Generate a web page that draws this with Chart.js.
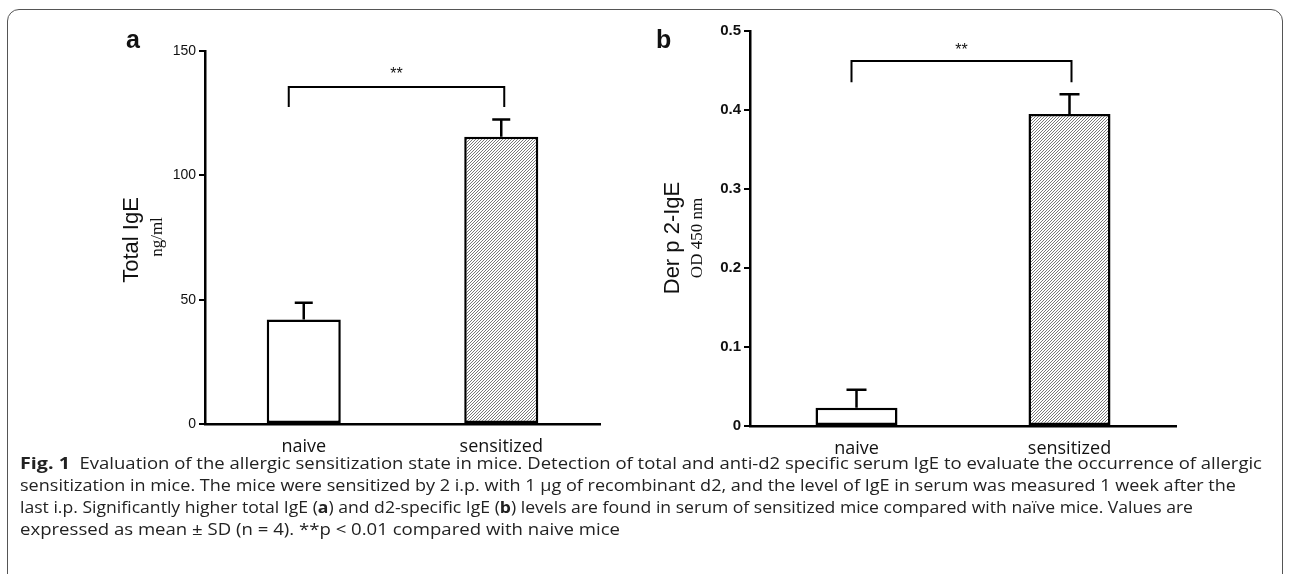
<!DOCTYPE html>
<html lang="en">
<head>
<meta charset="UTF-8">
<title>Fig. 1</title>
<script src="https://cdn.jsdelivr.net/npm/chart.js"></script>
<style>
    html, body { margin: 0; padding: 0; background: #fff; }
    body { width: 1290px; height: 574px; position: relative; overflow: hidden; font-family: "Liberation Sans", Arial, sans-serif; }
    #frame { position: absolute; left: 7px; top: 9px; width: 1276px; height: 620px; border: 1.5px solid #555; border-radius: 12px; box-sizing: border-box; }
    canvas { position: absolute; }
    .lbl { position: absolute; color: #111; white-space: nowrap; }
    .panel { font-weight: bold; font-size: 25px; }
    .rot { transform: translate(-50%, -50%) rotate(-90deg); }
    .serif { font-family: "Liberation Serif", "Times New Roman", serif; }
    #caption { position: absolute; left: 20px; top: 452px; font-family: "Open Sans", sans-serif; font-size: 15.5px; line-height: 22px; color: #222; }
    #caption div { white-space: nowrap; transform-origin: left center; }
    #caption b.fig { font-size: 16.5px; }
</style>
</head>
<body>
<div id="frame"></div>

<canvas id="chartA" width="520" height="440" style="left:100px; top:20px;"></canvas>
<canvas id="chartB" width="566" height="447" style="left:630px; top:15px;"></canvas>

<div class="lbl panel" style="left:126px; top:25px;">a</div>
<div class="lbl panel" style="left:656px; top:25px;">b</div>
<div class="lbl rot" style="left:131px; top:240px; font-size:22px;">Total IgE</div>
<div class="lbl rot serif" style="left:157px; top:237px; font-size:17px;">ng/ml</div>
<div class="lbl rot" style="left:672px; top:238px; font-size:22px;">Der p 2-IgE</div>
<div class="lbl rot serif" style="left:697px; top:238px; font-size:17px;">OD 450 nm</div>

<div id="caption">
    <div data-w="1242"><b class="fig">Fig. 1</b>&nbsp; Evaluation of the allergic sensitization state in mice. Detection of total and anti-d2 specific serum IgE to evaluate the occurrence of allergic</div>
    <div data-w="1216">sensitization in mice. The mice were sensitized by 2 i.p. with 1 μg of recombinant d2, and the level of IgE in serum was measured 1 week after the</div>
    <div data-w="1173">last i.p. Significantly higher total IgE (<b>a</b>) and d2-specific IgE (<b>b</b>) levels are found in serum of sensitized mice compared with naïve mice. Values are</div>
    <div data-w="600">expressed as mean ± SD (n = 4). **p &lt; 0.01 compared with naive mice</div>
</div>

<script>
// data
const categories = ['naive', 'sensitized'];
const totalIgE = [42, 115.5];
const totalIgESD = [6.8, 7.0];
const derP2IgE = [0.023, 0.395];
const derP2IgESD = [0.023, 0.025];
// significance brackets: [y of bar, y of leg ends]
const bracketA = [135.5, 127.5];
const bracketB = [0.462, 0.435];

// fit caption lines to their width in the figure
document.querySelectorAll('#caption div').forEach(el => {
    const span = document.createElement('span');
    span.innerHTML = el.innerHTML;
    el.innerHTML = '';
    el.appendChild(span);
    const w = span.getBoundingClientRect().width;
    el.style.transform = 'scaleX(' + (el.dataset.w / w) + ')';
});

function hatch() {
    const c = document.createElement('canvas');
    c.width = 3; c.height = 3;
    const g = c.getContext('2d');
    g.fillStyle = '#fff';
    g.fillRect(0, 0, 3, 3);
    g.strokeStyle = '#6a6a6a';
    g.lineWidth = 0.9;
    g.beginPath();
    g.moveTo(0, 3); g.lineTo(3, 0);
    g.moveTo(-1, 1); g.lineTo(1, -1);
    g.moveTo(2, 4); g.lineTo(4, 2);
    g.stroke();
    return g.createPattern(c, 'repeat');
}

const extras = {
    id: 'extras',
    afterDatasetsDraw(chart, args, opts) {
        const ctx = chart.ctx;
        const x = chart.scales.x, y = chart.scales.y;
        ctx.save();
        ctx.strokeStyle = '#000';
        ctx.lineWidth = 2.5;
        // error bars (upper half only)
        chart.getDatasetMeta(0).data.forEach((bar, i) => {
            const v = chart.data.datasets[0].data[i];
            const top = y.getPixelForValue(v + opts.sd[i]);
            ctx.beginPath();
            ctx.moveTo(bar.x, bar.y);
            ctx.lineTo(bar.x, top);
            ctx.moveTo(bar.x - opts.cap, top);
            ctx.lineTo(bar.x + opts.cap, top);
            ctx.stroke();
        });
        // bracket
        const x0 = x.getPixelForValue(0) + opts.legs[0];
        const x1 = x.getPixelForValue(1) + opts.legs[1];
        const yb = y.getPixelForValue(opts.bracket[0]);
        const yl = y.getPixelForValue(opts.bracket[1]);
        ctx.lineWidth = 2;
        ctx.beginPath();
        ctx.moveTo(x0, yl); ctx.lineTo(x0, yb); ctx.lineTo(x1, yb); ctx.lineTo(x1, yl);
        ctx.stroke();
        ctx.fillStyle = '#111';
        ctx.font = '16px "Liberation Sans", Arial';
        ctx.textAlign = 'center';
        ctx.textBaseline = 'bottom';
        ctx.fillText('**', (x0 + x1) / 2, yb - opts.starGap);
        ctx.restore();
    }
};

function makeChart(id, values, sd, opt) {
    return new Chart(document.getElementById(id), {
        type: 'bar',
        data: {
            labels: categories,
            datasets: [{
                data: values,
                backgroundColor: ['#fff', hatch()],
                borderColor: '#000',
                borderWidth: 2.5,
                borderSkipped: false,
                categoryPercentage: 1,
                barPercentage: opt.barPct
            }]
        },
        options: {
            responsive: false,
            animation: false,
            devicePixelRatio: 1,
            layout: { padding: { top: opt.padTop, right: 20, left: 0, bottom: 0 } },
            plugins: {
                legend: { display: false },
                tooltip: { enabled: false },
                extras: { sd: sd, cap: opt.cap, bracket: opt.bracket, legs: opt.legs, starGap: opt.starGap }
            },
            scales: {
                x: {
                    offset: true,
                    grid: { display: false },
                    border: { display: true, color: '#000', width: 2.5 },
                    ticks: { color: '#111', padding: 4, font: { family: '"Open Sans"', size: 18 } },
                    afterFit(s) { s.height = 36; }
                },
                y: {
                    min: 0,
                    max: opt.max,
                    ticks: {
                        stepSize: opt.step,
                        padding: 3,
                        color: '#111',
                        font: opt.tickFont,
                        callback: opt.fmt
                    },
                    grid: { drawOnChartArea: false, tickLength: 6, color: '#000', lineWidth: 2 },
                    border: { display: true, color: '#000', width: 2.5 },
                    afterFit(s) { s.width = opt.yWidth; }
                }
            }
        },
        plugins: [extras]
    });
}

makeChart('chartA', totalIgE, totalIgESD, {
    max: 150, step: 50, barPct: 0.375, padTop: 31, yWidth: 105, cap: 9,
    bracket: bracketA, legs: [-15, 3], starGap: 4,
    tickFont: { family: '"Liberation Sans"', size: 14 },
    fmt: v => v
});

makeChart('chartB', derP2IgE, derP2IgESD, {
    max: 0.5, step: 0.1, barPct: 0.385, padTop: 16, yWidth: 120, cap: 10,
    bracket: bracketB, legs: [-5, 2], starGap: 2,
    tickFont: { family: '"Liberation Sans"', size: 15, weight: 'bold' },
    fmt: v => v === 0 ? '0' : v.toFixed(1)
});
</script>
</body>
</html>
